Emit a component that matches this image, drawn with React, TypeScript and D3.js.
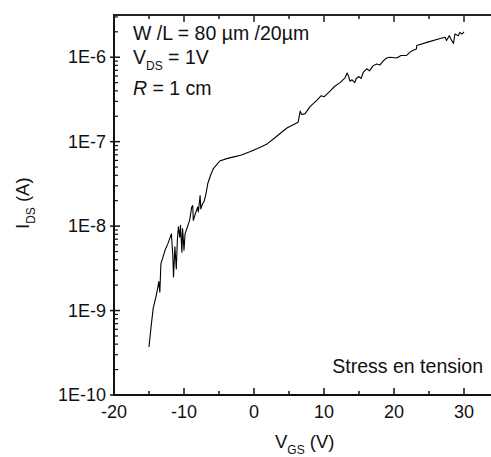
import React from "react";
import * as d3 from "d3";

const vgs: number[] = [
  -15, -14.7, -14.4, -13.9, -13.6, -13.45, -13.3, -13.0, -12.7, -12.3, -11.8, -11.6, -11.5, -11.3, -11.1,
  -10.95, -10.8, -10.6, -10.5, -10.3, -10.2, -10.0, -9.85, -9.6, -9.2, -8.9, -8.75, -8.67, -8.3, -8.05,
  -7.95, -7.7, -7.6, -7.33, -7.14, -6.86, -6.6, -6.2, -5.8, -4.9, -3.9, -2.9, -1.9, -0.6, 0.5, 1.8, 3.2,
  4.7, 6.3, 6.6, 6.8, 7.3, 8.0, 9.0, 9.6, 10.0, 10.9, 11.5, 12.3, 13.0, 13.3, 13.5, 13.7, 14.0, 14.4, 14.6,
  15.0, 15.3, 15.6, 16.1, 16.5, 17.0, 17.5, 18.0, 18.5, 18.95, 19.4, 20.4, 21.0, 21.8, 22.3, 22.8, 23.2,
  23.25, 24.7, 26.6, 27.3, 27.5, 27.9, 28.2, 28.5, 28.7, 29.2, 29.4, 29.7, 30.0,
];
const ids: number[] = [
  3.7e-10, 6.5e-10, 1.06e-9, 1.6e-9, 2.2e-9, 1.65e-9, 3.6e-9, 4.3e-9, 5.2e-9, 6.2e-9, 8.1e-9, 4.5e-9, 2.5e-9, 5.7e-9, 3.1e-9,
  6.8e-9, 9.8e-9, 7.4e-9, 1.02e-8, 4.9e-9, 9.3e-9, 5.2e-9, 8.1e-9, 9.3e-9, 1.17e-8, 1.68e-8, 1.75e-8, 1.17e-8, 1.47e-8, 1.68e-8,
  1.47e-8, 2.3e-8, 1.6e-8, 1.85e-8, 1.95e-8, 2.4e-8, 3.2e-8, 4.0e-8, 4.8e-8, 5.9e-8, 6.3e-8, 6.6e-8, 6.9e-8, 7.6e-8, 8.3e-8, 9.3e-8, 1.15e-7,
  1.45e-7, 1.7e-7, 2.3e-7, 2.1e-7, 2.15e-7, 2.6e-7, 3.1e-7, 3.5e-7, 3.4e-7, 4.0e-7, 4.5e-7, 5.0e-7, 5.7e-7, 6.5e-7, 6.0e-7, 5.2e-7, 5.4e-7, 5.0e-7, 5.6e-7,
  5.9e-7, 5.6e-7, 6.6e-7, 7.3e-7, 6.9e-7, 7.9e-7, 8.3e-7, 8.1e-7, 9.1e-7, 9.8e-7, 1.0e-6, 9.8e-7, 1.05e-6, 1.05e-6, 1.15e-6, 1.22e-6, 1.25e-6,
  1.38e-6, 1.5e-6, 1.67e-6, 1.72e-6, 1.58e-6, 1.8e-6, 1.6e-6, 1.46e-6, 1.88e-6, 1.8e-6, 1.97e-6, 1.88e-6, 2.0e-6,
];

const xTicks: number[] = [-20, -10, 0, 10, 20, 30];
const xMinorTicks: number[] = [-15, -5, 5, 15, 25, 35];
const yTickValues: number[] = [1e-10, 1e-9, 1e-8, 1e-7, 1e-6];
const yTickLabels: string[] = ["1E-10", "1E-9", "1E-8", "1E-7", "1E-6"];

const FONT = "'Liberation Sans', Arial, sans-serif";

export default function App() {
  const left = 114, right = 499, top = 15, bottom = 395;
  const x = d3.scaleLinear().domain([-20, 35]).range([left, right]);
  const y = d3.scaleLog().domain([1e-10, Math.pow(10, -5.5)]).range([bottom, top]);

  const data = vgs.map((v, i) => ({ v, i: ids[i] }));
  const line = d3.line<{ v: number; i: number }>().x(d => x(d.v)).y(d => y(d.i));

  const minorY: number[] = [];
  for (let e = -10; e <= -6; e++) {
    for (let m = 2; m <= 9; m++) {
      const val = m * Math.pow(10, e);
      if (val <= Math.pow(10, -5.5)) minorY.push(val);
    }
  }

  return (
    <svg width={491} height={457} style={{ position: "absolute", left: 0, top: 0, background: "#fff" }} fontFamily={FONT}>
      <rect x={0} y={0} width={491} height={457} fill="#fff" />
      {/* curve */}
      <path d={line(data) || ""} fill="none" stroke="#000" strokeWidth={1.1} strokeLinejoin="round" />
      {/* axes */}
      <line x1={left} x2={right} y1={top} y2={top} stroke="#222" strokeWidth={2} />
      <line x1={left} x2={right} y1={bottom} y2={bottom} stroke="#111" strokeWidth={2} />
      <line x1={left} x2={left} y1={top - 1} y2={bottom + 1} stroke="#111" strokeWidth={2} />
      {/* x ticks */}
      {xTicks.map(t => (
        <g key={"xt" + t}>
          <line x1={x(t)} x2={x(t)} y1={bottom} y2={bottom - 7} stroke="#111" strokeWidth={1.5} />
          <line x1={x(t)} x2={x(t)} y1={top} y2={top + 7} stroke="#222" strokeWidth={1.5} />
          <text x={x(t)} y={418} fontSize={18} textAnchor="middle" fill="#111">{t}</text>
        </g>
      ))}
      {xMinorTicks.map(t => (
        <g key={"xm" + t}>
          <line x1={x(t)} x2={x(t)} y1={bottom} y2={bottom - 4} stroke="#111" strokeWidth={1.5} />
          <line x1={x(t)} x2={x(t)} y1={top} y2={top + 4} stroke="#222" strokeWidth={1.5} />
        </g>
      ))}
      {/* y ticks */}
      {yTickValues.map((t, k) => (
        <g key={"yt" + k}>
          <line x1={left - 4} x2={left + 6} y1={y(t)} y2={y(t)} stroke="#111" strokeWidth={1.5} />
          <text x={106} y={y(t) + 6} fontSize={18} textAnchor="end" fill="#111">{yTickLabels[k]}</text>
        </g>
      ))}
      {minorY.map((t, k) => (
        <line key={"ym" + k} x1={left} x2={left + 4} y1={y(t)} y2={y(t)} stroke="#111" strokeWidth={1.2} />
      ))}
      {/* annotations */}
      <text x={133} y={40} fontSize={19.5} fill="#111">W /L = 80 µm /20µm</text>
      <text x={133} y={63.5} fontSize={19.5} fill="#111">
        V<tspan fontSize={12} dy={6}>DS</tspan><tspan dy={-6}> = 1V</tspan>
      </text>
      <text x={133} y={95} fontSize={19.5} fill="#111">
        <tspan fontStyle="italic">R</tspan> = 1 cm
      </text>
      <text x={483} y={373} fontSize={19.5} textAnchor="end" fill="#111">Stress en tension</text>
      {/* axis titles */}
      <text x={275} y={448} fontSize={18.5} fill="#111">
        V<tspan fontSize={12} dy={6}>GS</tspan><tspan dy={-6}> (V)</tspan>
      </text>
      <text transform="translate(29,229) rotate(-90)" fontSize={18.5} fill="#111">
        I<tspan fontSize={12} dy={6}>DS</tspan><tspan dy={-6}> (A)</tspan>
      </text>
    </svg>
  );
}
